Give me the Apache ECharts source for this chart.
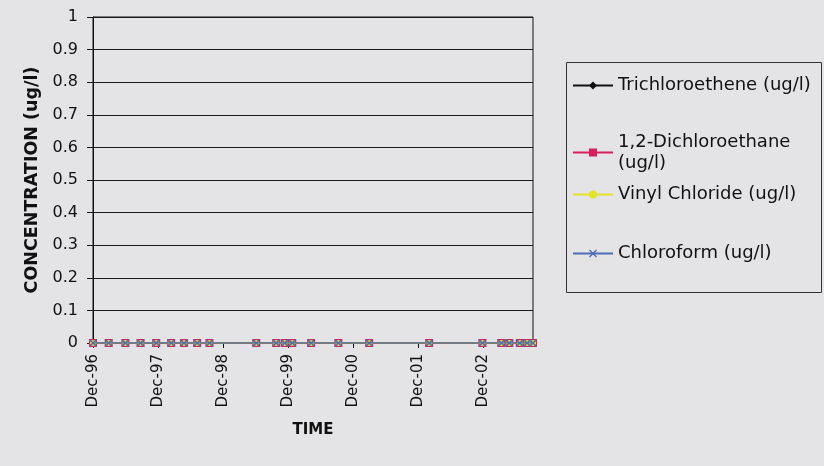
<!DOCTYPE html>
<html>
<head>
<meta charset="utf-8">
<script src="https://cdn.jsdelivr.net/npm/echarts@6/dist/echarts.min.js"></script>
<style>
  html, body { margin: 0; padding: 0; background: #e4e4e6; }
  #chart { width: 824px; height: 466px; }
</style>
</head>
<body>
<div id="chart"></div>
<script>
// Sampling dates (all results non-detect, plotted at zero)
const sampleDates = [
  '1996-12-10', '1997-03-08', '1997-06-10', '1997-09-03', '1997-11-30',
  '1998-02-22', '1998-05-05', '1998-07-18', '1998-09-25',
  '1999-06-15', '1999-10-05', '1999-11-22', '2000-01-03', '2000-04-18',
  '2000-09-18', '2001-03-10',
  '2002-02-10', '2002-12-06', '2003-03-22', '2003-05-06', '2003-07-04',
  '2003-08-14', '2003-09-16'
];
const trichloroethene = [0,0,0,0,0,0,0,0,0,0,0,0,0,0,0,0,0,0,0,0,0,0,0];
const dichloroethane  = [0,0,0,0,0,0,0,0,0,0,0,0,0,0,0,0,0,0,0,0,0,0,0];
const vinylChloride   = [0,0,0,0,0,0,0,0,0,0,0,0,0,0,0,0,0,0,0,0,0,0,0];
const chloroform      = [0,0,0,0,0,0,0,0,0,0,0,0,0,0,0,0,0,0,0,0,0,0,0];

const yearTickLabels = ['Dec-96', 'Dec-97', 'Dec-98', 'Dec-99', 'Dec-00', 'Dec-01', 'Dec-02'];
const seriesNames = ['Trichloroethene (ug/l)', '1,2-Dichloroethane (ug/l)', 'Vinyl Chloride (ug/l)', 'Chloroform (ug/l)'];

// x positions: months elapsed since the first sample
const MS_PER_MONTH = 30.4375 * 86400000;
const t0 = Date.parse(sampleDates[0]);
const xMonths = sampleDates.map(d => (Date.parse(d) - t0) / MS_PER_MONTH);
const toPairs = vals => xMonths.map((x, i) => [x, vals[i]]);
const yearTickValues = yearTickLabels.map((_, i) => i * 12);

const FONT = 'DejaVu Sans, Liberation Sans, Arial, sans-serif';
const crossPath = 'path://M0,1.2L1.2,0L5,3.8L8.8,0L10,1.2L6.2,5L10,8.8L8.8,10L5,6.2L1.2,10L0,8.8L3.8,5Z';

const styles = [
  { color: '#111111', symbol: 'diamond', size: 8 },
  { color: '#d81e5b', symbol: 'rect', size: 8 },
  { color: '#e2e226', symbol: 'circle', size: 6 },
  { color: '#4a6db3', symbol: crossPath, size: 8 }
];
const valueSets = [trichloroethene, dichloroethane, vinylChloride, chloroform];

const series = seriesNames.map((name, i) => ({
  name: name,
  type: 'line',
  data: toPairs(valueSets[i]),
  symbol: styles[i].symbol,
  symbolSize: styles[i].size,
  showAllSymbol: true,
  itemStyle: { color: styles[i].color },
  lineStyle: { color: styles[i].color, width: 1.5 },
  animation: false,
  z: 3 + i
}));

const legendTops = [75, 121, 184, 243];
const legends = seriesNames.map((name, i) => ({
  data: [name],
  orient: 'vertical',
  left: 572,
  top: legendTops[i],
  padding: 0,
  itemWidth: 40,
  itemHeight: 10,
  itemGap: 5,
  selectedMode: false,
  formatter: n => n === '1,2-Dichloroethane (ug/l)' ? '1,2-Dichloroethane\n(ug/l)' : n,
  textStyle: {
    fontFamily: FONT, fontSize: 18, color: '#111', lineHeight: 21,
    padding: i === 1 ? [21, 0, 0, 0] : 0
  }
}));

const chart = echarts.init(document.getElementById('chart'), null, { renderer: 'canvas' });
chart.setOption({
  backgroundColor: '#e4e4e6',
  animation: false,
  grid: {
    left: 93, right: 291, top: 17, bottom: 123,
    show: true, borderColor: '#111', borderWidth: 1, backgroundColor: 'transparent'
  },
  graphic: [{
    type: 'rect',
    shape: { x: 566.5, y: 62.5, width: 255, height: 230 },
    style: { fill: 'transparent', stroke: '#333', lineWidth: 1 },
    z: 1
  }],
  legend: legends,
  xAxis: {
    type: 'value',
    min: 0,
    max: xMonths[xMonths.length - 1],
    name: 'TIME',
    nameLocation: 'middle',
    nameGap: 80,
    nameTextStyle: { fontFamily: FONT, fontSize: 15, fontWeight: 'bold', color: '#111' },
    axisLine: { show: true, lineStyle: { color: '#111', width: 1 } },
    axisTick: { show: true, length: 5, customValues: yearTickValues, lineStyle: { color: '#111' } },
    axisLabel: {
      customValues: yearTickValues,
      rotate: 90,
      margin: 11,
      fontFamily: FONT, fontSize: 15, color: '#111',
      formatter: v => yearTickLabels[Math.round(v / 12)] || ''
    },
    splitLine: { show: false }
  },
  yAxis: {
    type: 'value',
    min: 0, max: 1, interval: 0.1,
    name: 'CONCENTRATION (ug/l)',
    nameLocation: 'middle',
    nameGap: 49,
    nameTextStyle: { fontFamily: FONT, fontSize: 17.5, fontWeight: 'bold', color: '#111' },
    axisLine: { show: true, lineStyle: { color: '#111', width: 1 } },
    axisTick: { show: true, length: 6, lineStyle: { color: '#111' } },
    axisLabel: { margin: 15, fontFamily: FONT, fontSize: 16, color: '#111' },
    splitLine: { show: true, lineStyle: { color: '#1a1a1a', width: 1 } }
  },
  series: series
});
</script>
</body>
</html>
